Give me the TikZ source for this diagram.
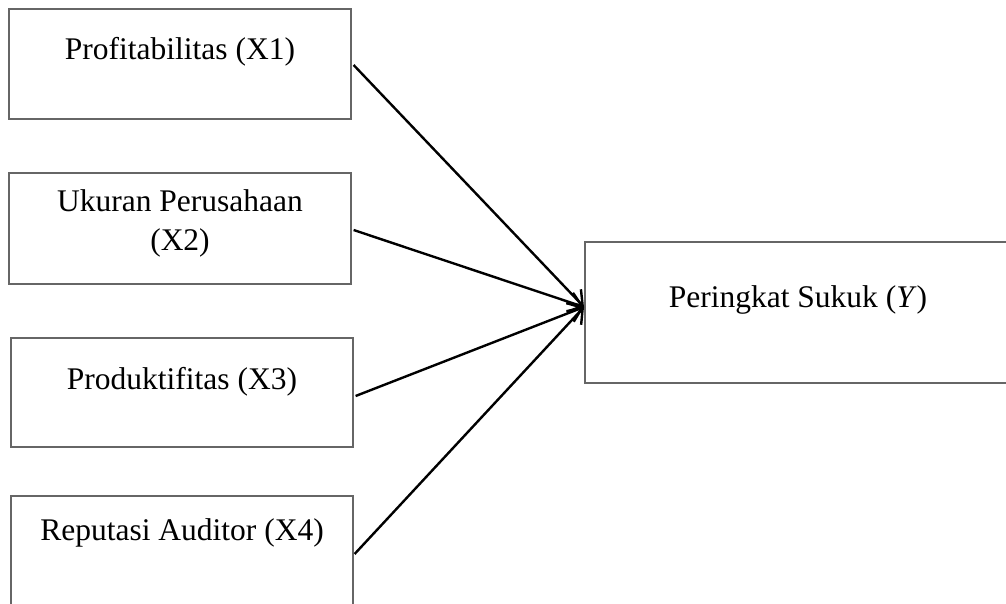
\documentclass[tikz,border=0pt]{standalone}
\usepackage{fontspec}
\setmainfont{Liberation Serif}
\usetikzlibrary{arrows.meta}
\begin{document}
\begin{tikzpicture}[x=1pt,y=-1pt,
  box/.style={draw=black!60, line width=1.2pt, rectangle, inner sep=0pt},
  lbl/.style={font=\fontsize{31.5}{39}\selectfont, align=center, inner sep=0pt},
  conn/.style={line width=2.4pt, -{Straight Barb[length=13pt,width=20pt,line width=2.4pt]}}]
\useasboundingbox (0,0) rectangle (1006,603);
\begin{scope}
\clip (0,0) rectangle (1006,603);
\node[box, minimum width=342pt, minimum height=110pt] (x1) at (180,64) {};
\node[box, minimum width=342pt, minimum height=111pt] (x2) at (180,228.5) {};
\node[box, minimum width=342pt, minimum height=109pt] (x3) at (182,392.5) {};
\node[box, minimum width=342pt, minimum height=116pt] (x4) at (182,554) {};
\node[box, minimum width=440pt, minimum height=141pt] (y) at (805,312.5) {};
\end{scope}
\node[lbl] (t1) at (180,52) {Profitabilitas (X1)};
\node[lbl] (t2) at (180,223) {Ukuran Perusahaan\\(X2)};
\node[lbl] (t3) at (182,382) {Produktifitas (X3)};
\node[lbl] (t4) at (182,533) {Reputasi Auditor (X4)};
\node[lbl] (ty) at (798,300) {Peringkat Sukuk (\textit{Y})};
\coordinate (tip) at (584,307);
\draw[conn] ([xshift=2pt,yshift=-1pt]x1.east) -- (tip);
\draw[conn] ([xshift=2pt,yshift=-1.5pt]x2.east) -- (tip);
\draw[conn] ([xshift=2pt,yshift=-3.5pt]x3.east) -- (tip);
\draw[conn] ([xshift=1pt]x4.east) -- (tip);
\end{tikzpicture}
\end{document}
